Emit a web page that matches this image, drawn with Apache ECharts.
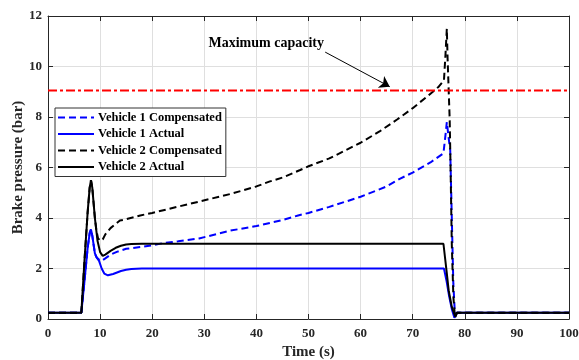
<!DOCTYPE html>
<html><head><meta charset="utf-8">
<script src="https://cdn.jsdelivr.net/npm/echarts@6/dist/echarts.min.js"></script>
<style>html,body{margin:0;padding:0;background:#fff}#c{width:579px;height:360px}</style>
</head><body><div id="c"></div>
<script>
// Vehicle 1 Compensated (blue dashed)
const v1cT = [0,6.4,7.0,7.6,8.0,8.25,8.5,9.0,9.3,9.8,10.3,11,12,13.2,15,17.7,20,22,25,29,35,40,45,48,50,54,60,65,67.5,70,73.4,75.9,76.3,76.55,77.0,77.2,77.5,77.8,78.1,78.5,100];
const v1cY = [0.25,0.25,1.5,2.8,3.4,3.55,3.3,2.6,2.45,2.35,2.3,2.4,2.55,2.66,2.78,2.85,2.92,3.0,3.08,3.19,3.5,3.68,3.92,4.1,4.2,4.44,4.84,5.25,5.55,5.8,6.2,6.56,7.3,7.8,7.0,6.7,4.05,1.4,0.2,0.25,0.25];
// Vehicle 1 Actual (blue solid)
const v1aT = [0,6.4,7.0,7.6,8.0,8.25,8.5,9.0,9.3,9.8,10.3,10.8,11.5,12.5,14,15,16,18,76.0,76.5,77.0,77.5,78.0,78.3,78.5,100];
const v1aY = [0.25,0.25,1.5,2.8,3.4,3.55,3.3,2.6,2.45,2.3,2.0,1.8,1.73,1.78,1.9,1.95,1.98,2.0,2.0,1.5,0.9,0.4,0.05,0.15,0.25,0.25];
// Vehicle 2 Compensated (black dashed)
const v2cT = [0,6.4,7.0,7.6,8.0,8.25,8.5,9.0,9.3,9.6,10,10.5,11,12,13.8,15,17.7,20,25,29,35,40,42.6,45,48.4,50,54,60,63.8,67,70,73,75,76,76.3,76.55,76.7,77.1,77.3,77.5,77.8,78.1,78.5,100];
const v2cY = [0.25,0.25,2.3,4.2,5.2,5.5,5.2,4.0,3.5,3.2,3.1,3.15,3.35,3.6,3.9,3.95,4.1,4.2,4.45,4.65,4.95,5.25,5.45,5.6,5.9,6.05,6.36,6.98,7.45,7.9,8.35,8.85,9.2,9.45,10.5,11.5,10.3,7.9,5.6,3.0,0.9,0.1,0.25,0.25];
// Vehicle 2 Actual (black solid)
const v2aT = [0,6.4,7.0,7.6,8.0,8.25,8.5,9.0,9.5,10.0,10.5,11,12,13,14,15,16,18,20,75.9,76.5,76.9,77.5,78.2,78.5,100];
const v2aY = [0.25,0.25,2.3,4.2,5.2,5.5,5.2,4.0,3.1,2.65,2.5,2.55,2.7,2.82,2.9,2.95,2.97,2.98,2.98,2.98,1.9,1.14,0.48,0.08,0.25,0.25];
// Maximum capacity
const capT = [0,100];
const capY = [9.05,9.05];
const xTicks = [0,10,20,30,40,50,60,70,80,90,100];
const yTicks = [0,2,4,6,8,10,12];
const seriesNames = ['Vehicle 1 Compensated','Vehicle 1 Actual','Vehicle 2 Compensated','Vehicle 2 Actual'];
const annText = 'Maximum capacity';

const zip = (a,b) => a.map((v,i)=>[v,b[i]]);
const FONT = '"Liberation Serif", "Times New Roman", serif';
const BLUE = '#0000ff', BLACK = '#000000';

const chart = echarts.init(document.getElementById('c'), null, {renderer:'canvas'});
const axisCommon = {
  axisLine:{show:true, onZero:false, lineStyle:{color:'#262626', width:1}},
  axisTick:{show:true, inside:true, length:5, lineStyle:{color:'#262626'}},
};
function lineSeries(name, data, color, dashed){
  return {name, type:'line', data, symbol:'none', showSymbol:false, smooth:false, animation:false,
    lineStyle:{color, width:2, type: dashed ? [7,4] : 'solid'}, itemStyle:{color}, z: 2};
}
chart.setOption({
  animation:false,
  backgroundColor:'#fff',
  grid:{left:48, right:10, top:16, bottom:41, containLabel:false, outerBoundsMode:'none'},
  xAxis:[
    Object.assign({type:'value', min:0, max:100, interval:10, position:'bottom',
      name:'Time (s)', nameLocation:'middle', nameGap:19,
      nameTextStyle:{fontFamily:FONT, fontWeight:'bold', fontSize:15, color:'#262626'},
      axisLabel:{fontFamily:FONT, fontWeight:'bold', fontSize:13, color:'#262626', margin:8},
      splitLine:{show:true, lineStyle:{color:'#dfdfdf', width:1}}}, axisCommon),
    Object.assign({type:'value', min:0, max:100, interval:10, position:'top',
      axisLabel:{show:false}, splitLine:{show:false}}, axisCommon)
  ],
  yAxis:[
    Object.assign({type:'value', min:0, max:12, interval:2, position:'left',
      name:'Brake pressure (bar)', nameLocation:'middle', nameGap:22, nameRotate:90, nameMoveOverlap:false,
      nameTextStyle:{fontFamily:FONT, fontWeight:'bold', fontSize:15, color:'#262626'},
      axisLabel:{fontFamily:FONT, fontWeight:'bold', fontSize:13, color:'#262626', margin:6},
      splitLine:{show:true, lineStyle:{color:'#dfdfdf', width:1}}}, axisCommon),
    Object.assign({type:'value', min:0, max:12, interval:2, position:'right',
      axisLabel:{show:false}, splitLine:{show:false}}, axisCommon)
  ],
  legend:{
    show:true, orient:'vertical', left:55, top:108,
    data:seriesNames,
    itemWidth:36, itemHeight:12, itemGap:3.5,
    padding:[3,4,3,2],
    itemStyle:{opacity:0},
    backgroundColor:'#fff', borderColor:'#333', borderWidth:1,
    textStyle:{fontFamily:FONT, fontWeight:'bold', fontSize:12.5, color:'#000', padding:[0,0,0,-1]}
  },
  series:[
    lineSeries(seriesNames[0], zip(v1cT,v1cY), BLUE, true),
    lineSeries(seriesNames[1], zip(v1aT,v1aY), BLUE, false),
    lineSeries(seriesNames[2], zip(v2cT,v2cY), BLACK, true),
    lineSeries(seriesNames[3], zip(v2aT,v2aY), BLACK, false),
    {name:'cap', type:'line', data:zip(capT,capY), symbol:'none', animation:false, z:3,
      lineStyle:{color:'#ff0000', width:2, type:[9,3,3,3]},
      markLine:{silent:true, animation:false, symbol:['none','arrow'], symbolSize:10,
        label:{show:false}, lineStyle:{color:'#000', width:1, type:'solid'},
        data:[[{coord:[53.2,10.57]},{coord:[65.6,9.2]}]]},
      markPoint:{silent:true, animation:false, symbol:'circle', symbolSize:0,
        data:[{coord:[30.8,10.93], label:{show:true, position:'right', distance:0, formatter:annText,
          fontFamily:FONT, fontWeight:'bold', fontSize:14, color:'#000'}}]}
    }
  ]
});
</script></body></html>
